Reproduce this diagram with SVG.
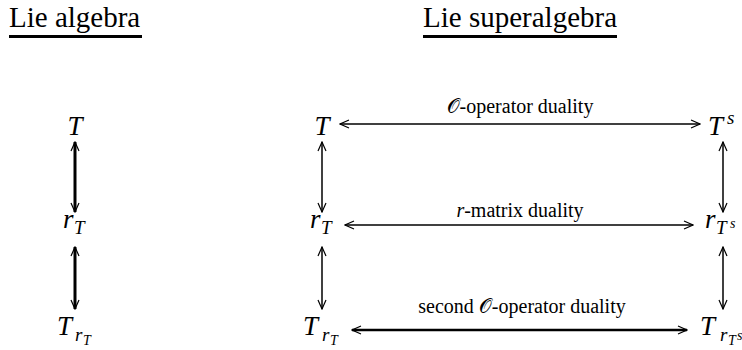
<svg xmlns="http://www.w3.org/2000/svg" width="742" height="350" viewBox="0 0 742 350">
<style>
.hdr{font-family:"Liberation Serif","Times New Roman",serif;font-size:29px;fill:#000}
.lbl{font-family:"Liberation Serif","Times New Roman",serif;font-size:20px;fill:#000}
.m{font-family:"Liberation Serif","Times New Roman",serif;font-style:italic;font-size:27px;fill:#000}
.s1{font-family:"Liberation Serif","Times New Roman",serif;font-style:italic;font-size:19px;fill:#000}
.s2{font-family:"Liberation Serif","Times New Roman",serif;font-style:italic;font-size:14px;fill:#000}
.ul{stroke:#000;stroke-width:3}
.a{fill:none;stroke:#000}
.thick{stroke-width:3}
.thin{stroke-width:1.5}
.mid{stroke-width:2.6}
</style>
<defs>
<marker id="h" viewBox="-11 -5 12 10" refX="0" refY="0" markerWidth="12" markerHeight="10" markerUnits="userSpaceOnUse" orient="auto-start-reverse">
<path d="M-9,-4 L0,0 L-9,4" fill="none" stroke="#000" stroke-width="1.2"/>
</marker>
</defs>
<g id="header-lie-algebra">
<text class="hdr" x="9" y="27">Lie algebra</text>
<line class="ul" x1="9" y1="36.5" x2="142" y2="36.5"/>
</g>
<g id="header-lie-superalgebra">
<text class="hdr" x="423" y="27">Lie superalgebra</text>
<line class="ul" x1="423" y1="36.5" x2="617" y2="36.5"/>
</g>
<g id="L-T"><text class="m" x="75" y="135" text-anchor="middle">T</text></g>
<g id="L-rT"><text class="m" x="63" y="228">r</text><text class="s1" x="74" y="234">T</text></g>
<g id="L-TrT"><text class="m" x="57" y="335">T</text><text class="s1" x="75" y="341">r</text><text class="s2" x="83" y="345">T</text></g>
<g id="R-T"><text class="m" x="322" y="135" text-anchor="middle">T</text></g>
<g id="R-rT"><text class="m" x="310" y="228">r</text><text class="s1" x="321" y="234">T</text></g>
<g id="R-TrT"><text class="m" x="303" y="335">T</text><text class="s1" x="322" y="341">r</text><text class="s2" x="330" y="345">T</text></g>
<g id="R-Ts"><text class="m" x="708" y="135">T</text><text class="s1" x="727" y="124">s</text></g>
<g id="R-rTs"><text class="m" x="705" y="228">r</text><text class="s1" x="716" y="234">T</text><text class="s2" x="730" y="228">s</text></g>
<g id="R-TrTs"><text class="m" x="700" y="335">T</text><text class="s1" x="720" y="341">r</text><text class="s2" x="728" y="345">T</text><text class="s2" x="737" y="340">s</text></g>
<g id="labels">
<text class="lbl" x="520" y="113" text-anchor="middle">𝒪-operator duality</text>
<text class="lbl" x="520" y="217" text-anchor="middle"><tspan font-style="italic">r</tspan>-matrix duality</text>
<text class="lbl" x="522" y="313" text-anchor="middle" font-size="20.5">second 𝒪-operator duality</text>
</g>
<g id="connectors">
<line class="a thick" x1="75" y1="142" x2="75" y2="212" marker-start="url(#h)" marker-end="url(#h)"/>
<line class="a thick" x1="75" y1="247" x2="75" y2="309" marker-start="url(#h)" marker-end="url(#h)"/>
<line class="a thin" x1="322" y1="142" x2="322" y2="212" marker-start="url(#h)" marker-end="url(#h)"/>
<line class="a thin" x1="322" y1="247" x2="322" y2="309" marker-start="url(#h)" marker-end="url(#h)"/>
<line class="a thin" x1="723" y1="142" x2="723" y2="212" marker-start="url(#h)" marker-end="url(#h)"/>
<line class="a thin" x1="723" y1="247" x2="723" y2="309" marker-start="url(#h)" marker-end="url(#h)"/>
<line class="a thin" x1="340" y1="124" x2="700" y2="124" marker-start="url(#h)" marker-end="url(#h)"/>
<line class="a thin" x1="345" y1="225" x2="693" y2="225" marker-start="url(#h)" marker-end="url(#h)"/>
<line class="a mid" x1="352" y1="330" x2="687" y2="330" marker-start="url(#h)" marker-end="url(#h)"/>
</g>
</svg>
